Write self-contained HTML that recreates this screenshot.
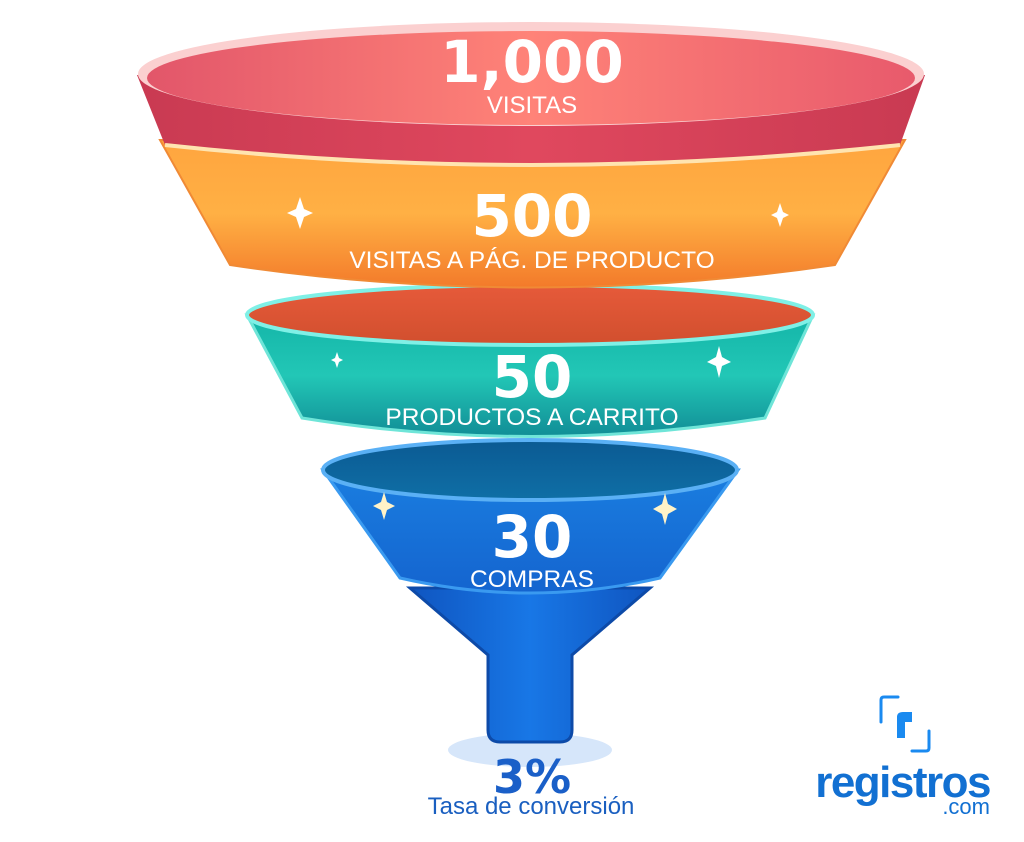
<!DOCTYPE html>
<html><head><meta charset="utf-8"><style>
html,body{margin:0;padding:0;background:#fff;}
svg{display:block;}
text{font-family:"Liberation Sans",sans-serif;}
.num{font-family:"DejaVu Sans",sans-serif;font-weight:bold;}
</style></head><body>
<svg width="1024" height="842" viewBox="0 0 1024 842" xmlns="http://www.w3.org/2000/svg">
<defs>
<linearGradient id="red" x1="0" x2="1" y1="0" y2="0"><stop offset="0" stop-color="#c93a52"/><stop offset="0.5" stop-color="#e0485e"/><stop offset="1" stop-color="#c93a52"/></linearGradient>
<linearGradient id="redin" x1="0" x2="1"><stop offset="0" stop-color="#e2566a"/><stop offset="0.5" stop-color="#ff8378"/><stop offset="1" stop-color="#e85a6c"/></linearGradient>
<linearGradient id="org" x1="0" x2="0" y1="0" y2="1"><stop offset="0" stop-color="#ffa53f"/><stop offset="0.5" stop-color="#ffb044"/><stop offset="1" stop-color="#f37a2a"/></linearGradient>
<linearGradient id="teal" x1="0" x2="0" y1="0" y2="1"><stop offset="0" stop-color="#14b5a8"/><stop offset="0.5" stop-color="#22c7b6"/><stop offset="1" stop-color="#118d96"/></linearGradient>
<linearGradient id="tealin" x1="0" x2="0" y1="0" y2="1"><stop offset="0" stop-color="#e65a3a"/><stop offset="1" stop-color="#d14f2e"/></linearGradient>
<linearGradient id="blue" x1="0" x2="0" y1="0" y2="1"><stop offset="0" stop-color="#1a7ee0"/><stop offset="1" stop-color="#1464cf"/></linearGradient>
<linearGradient id="bluein" x1="0" x2="0" y1="0" y2="1"><stop offset="0" stop-color="#0b5a93"/><stop offset="1" stop-color="#0f6fa6"/></linearGradient>
<linearGradient id="cone" x1="0" x2="1"><stop offset="0" stop-color="#0f55c0"/><stop offset="0.5" stop-color="#1877e6"/><stop offset="1" stop-color="#0f55c0"/></linearGradient>
</defs>

<ellipse cx="530" cy="750" rx="82" ry="17" fill="#d6e6fa"/>
<path d="M410 588 L650 588 L572 655 L572 730 Q572 742 560 742 L500 742 Q488 742 488 730 L488 655 Z" fill="url(#cone)" stroke="#0d4aa8" stroke-width="3"/>

<path d="M323 470 L400 578 Q530 608 660 578 L738 470 Z" fill="url(#blue)" stroke="#3a9af0" stroke-width="3"/>
<ellipse cx="530" cy="470" rx="207" ry="30" fill="url(#bluein)" stroke="#5ab0f5" stroke-width="4"/>

<path d="M247 315 L302 418 Q530 455 765 418 L813 315 Z" fill="url(#teal)" stroke="#6fe5d8" stroke-width="3"/>
<ellipse cx="530" cy="315" rx="283" ry="30" fill="url(#tealin)" stroke="#7ff0e6" stroke-width="4"/>

<path d="M160 140 L230 265 Q530 310 835 265 L905 140 Z" fill="url(#org)" stroke="#f08a35" stroke-width="2"/>
<path d="M137 75 L165 145 Q530 185 900 145 L925 75 Z" fill="url(#red)"/>
<path d="M165 145 Q530 185 900 145" fill="none" stroke="#ffe4b0" stroke-width="4"/>
<ellipse cx="531" cy="74" rx="393" ry="52" fill="#fbd0d0"/>
<ellipse cx="531" cy="78" rx="384" ry="47" fill="url(#redin)"/>

<g fill="#fff">
<path d="M300 197 L304 209 L313 213 L304 217 L300 229 L296 217 L287 213 L296 209Z"/>
<path d="M780 203 L783 212 L789 215 L783 218 L780 227 L777 218 L771 215 L777 212Z"/>
<path d="M337 352 L339 358 L343 360 L339 362 L337 368 L335 362 L331 360 L335 358Z"/>
<path d="M719 346 L722 357 L731 362 L722 366 L719 378 L716 366 L707 362 L716 357Z"/>
</g>
<g fill="#fff3c8">
<path d="M384 492 L387 502 L395 506 L387 510 L384 520 L381 510 L373 506 L381 502Z"/>
<path d="M665 493 L668 504 L677 509 L668 514 L665 525 L662 514 L653 509 L662 504Z"/>
</g>

<g fill="#fff" text-anchor="middle">
<text class="num" x="532" y="82" font-size="58">1,000</text>
<text x="532" y="113" font-size="24">VISITAS</text>
<text class="num" x="532" y="236" font-size="58">500</text>
<text x="532" y="268" font-size="24.5">VISITAS A PÁG. DE PRODUCTO</text>
<text class="num" x="532" y="397" font-size="58">50</text>
<text x="532" y="425" font-size="24.5">PRODUCTOS A CARRITO</text>
<text class="num" x="532" y="557" font-size="58">30</text>
<text x="532" y="587" font-size="24.5">COMPRAS</text>
</g>
<text class="num" x="532" y="793" font-size="46" fill="#1a5fc8" text-anchor="middle">3%</text>
<text x="531" y="814" font-size="24" fill="#1a5fc0" text-anchor="middle">Tasa de conversión</text>

<g fill="none" stroke="#1a8af0" stroke-width="3" stroke-linecap="round">
<path d="M898 697 L884 697 Q881 697 881 700 L881 722"/>
<path d="M929 731 L929 748 Q929 751 926 751 L912 751"/>
</g>
<path d="M897 738 L897 717 Q897 712 903 712 L912 712 L912 722 L905 722 L905 738Z" fill="#1a8af0"/>
<text x="990" y="797" font-size="44" font-weight="bold" fill="#1270d2" text-anchor="end" letter-spacing="-1.5">registros</text>
<text x="990" y="814" font-size="22" fill="#1270d2" text-anchor="end">.com</text>
</svg>
</body></html>
